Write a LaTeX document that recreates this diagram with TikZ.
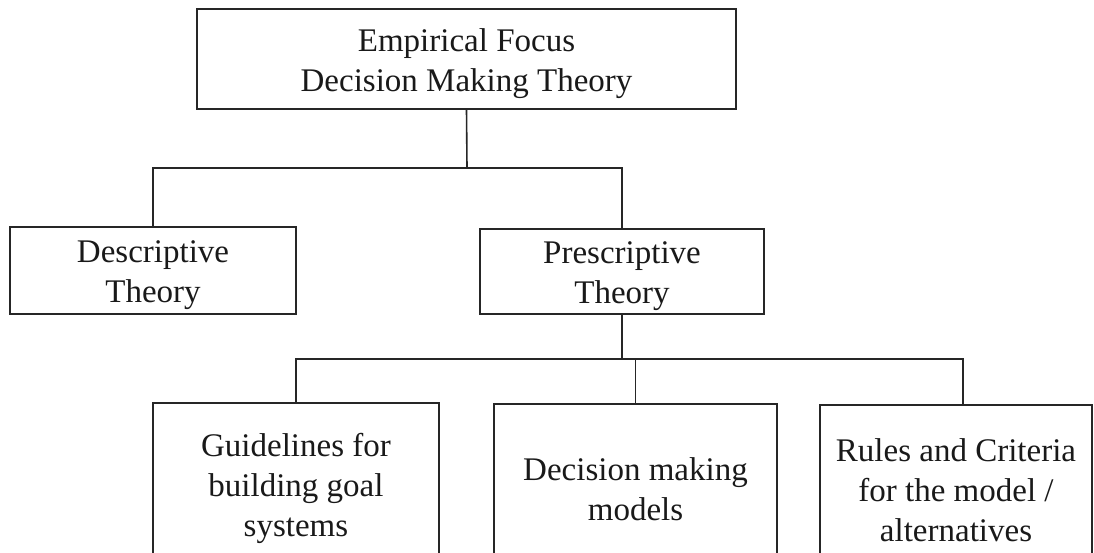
\documentclass[tikz,border=0pt]{standalone}
\usepackage{fontspec}
\setmainfont{Liberation Serif}
\begin{document}
\begin{tikzpicture}[x=1pt,y=-1pt,
  line width=1.8pt,
  boxlook/.style={draw=black!85, rectangle, inner sep=0pt},
  boxtext/.style={label={[align=center, inner sep=0pt, yshift=-5pt,
    font=\fontsize{33}{40}\selectfont, text=black!90]center:#1}},
  link/.style={draw=black!85, line width=1.6pt}]
  \useasboundingbox (0,0) rectangle (1094,553);
  \clip (0,0) rectangle (1094,553);

  % top level
  \node[boxlook, minimum width=539, minimum height=100,
    boxtext={Empirical Focus\\Decision Making Theory}] (top) at (466.5,59) {};

  % second level
  \node[boxlook, minimum width=286, minimum height=87,
    boxtext={Descriptive\\Theory}] (desc) at (153,270.5) {};
  \node[boxlook, minimum width=284, minimum height=85,
    boxtext={Prescriptive\\Theory}] (pres) at (622,271.5) {};

  % third level (boxes run past the lower edge)
  \node[boxlook, minimum width=286, minimum height=160,
    boxtext={Guidelines for\\building goal\\systems}] (guide) at (296,483) {};
  \node[boxlook, minimum width=283, minimum height=160,
    boxtext={Decision making\\models}] (dec) at (635.5,484) {};
  \node[boxlook, minimum width=272, minimum height=160,
    boxtext={Rules and Criteria\\for the model /\\alternatives}] (rules) at (956,485) {};

  % junction levels
  \coordinate (j1) at (467,168);
  \coordinate (j2) at (622,359);

  % connectors
  \draw[link] (top.south) -- (j1);
  \draw[link] (desc.north) -- (desc.north |- j1) -- (pres.north |- j1) -- (pres.north);
  \draw[link] (pres.south) -- (j2);
  \draw[link] (guide.north) -- (guide.north |- j2)
     -- ([xshift=7pt]rules.north |- j2) -- ([xshift=7pt]rules.north);
  \draw[link] (dec.north) -- (dec.north |- j2);
\end{tikzpicture}
\end{document}
